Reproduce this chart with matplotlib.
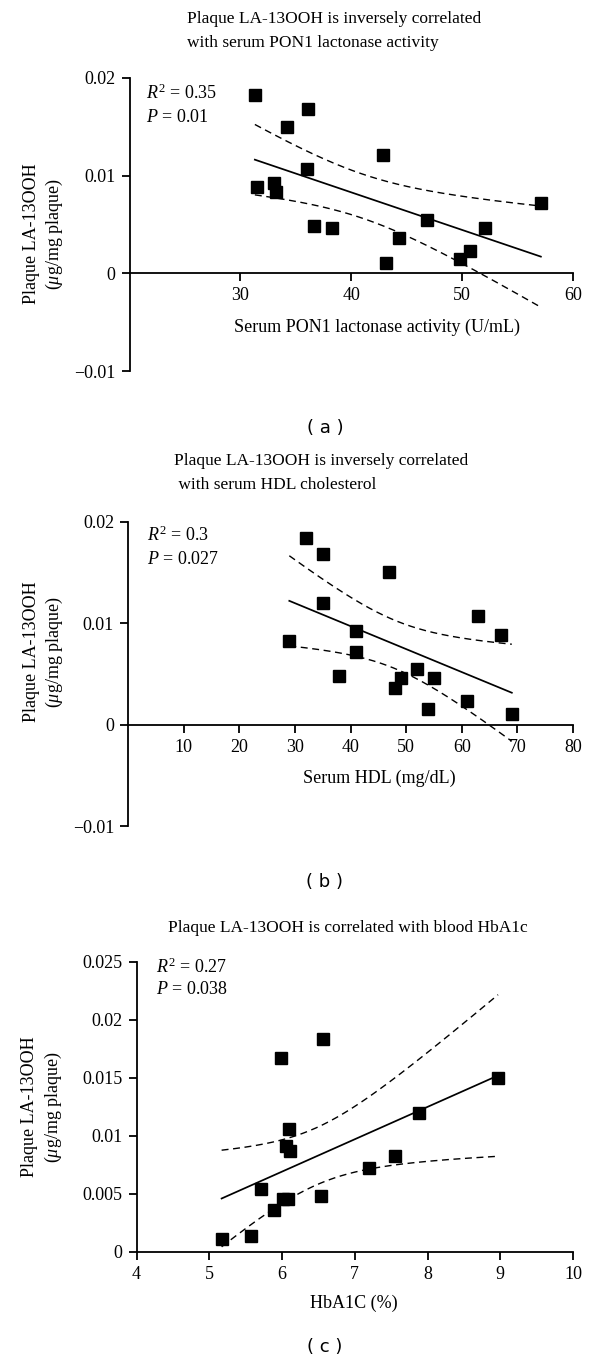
import numpy as np
import matplotlib
matplotlib.use("Agg")
import matplotlib.pyplot as plt

# ---------------- data ----------------
# (a) serum PON1 lactonase activity vs plaque LA-13OOH
pon1_activity = [31.3, 36.1, 34.2, 42.9, 36.0, 31.5, 33.0, 33.2, 57.1,
                 36.6, 38.3, 46.8, 44.3, 52.1, 50.7, 49.8, 43.1]
la13ooh_a = [0.0183, 0.0168, 0.0150, 0.0121, 0.0107, 0.0088, 0.0092, 0.0083, 0.0072,
             0.0048, 0.0046, 0.0055, 0.0036, 0.0046, 0.0023, 0.0015, 0.0011]

# (b) serum HDL vs plaque LA-13OOH
hdl = [32, 35, 47, 35, 63, 67, 41, 29, 41, 38, 52, 49, 55, 48, 61, 54, 69]
la13ooh_b = [0.0184, 0.0168, 0.0151, 0.0120, 0.0107, 0.0088, 0.0092, 0.0083, 0.0072,
             0.0048, 0.0055, 0.0046, 0.0046, 0.0036, 0.0023, 0.0015, 0.0011]

# (c) HbA1c vs plaque LA-13OOH
hba1c = [6.57, 5.99, 8.97, 7.89, 6.09, 6.06, 6.11, 7.55, 7.19, 5.71, 6.54,
         6.02, 6.08, 5.89, 5.57, 5.17]
la13ooh_c = [0.0184, 0.0167, 0.0150, 0.0120, 0.0106, 0.0091, 0.0087, 0.0083, 0.0072,
             0.0054, 0.0048, 0.0046, 0.0046, 0.0036, 0.0014, 0.0011]

titles = ["Plaque LA-13OOH is inversely correlated\nwith serum PON1 lactonase activity",
          "Plaque LA-13OOH is inversely correlated\n with serum HDL cholesterol",
          "Plaque LA-13OOH is correlated with blood HbA1c"]
xlabels = ["Serum PON1 lactonase activity (U/mL)", "Serum HDL (mg/dL)", "HbA1C (%)"]
stats_r2 = ["0.35", "0.3", "0.27"]
stats_p = ["0.01", "0.027", "0.038"]
panel_tags = ["( a )", "( b )", "( c )"]
xticks_list = [[30, 40, 50, 60], [10, 20, 30, 40, 50, 60, 70, 80], [4, 5, 6, 7, 8, 9, 10]]
yticks_list = [[-0.01, 0, 0.01, 0.02], [-0.01, 0, 0.01, 0.02],
               [0, 0.005, 0.01, 0.015, 0.02, 0.025]]
ytick_labels_list = [["\u22120.01", "0", "0.01", "0.02"], ["\u22120.01", "0", "0.01", "0.02"],
                     ["0", "0.005", "0.01", "0.015", "0.02", "0.025"]]

# Student t 0.975 quantiles by degrees of freedom
T975 = {13: 2.160, 14: 2.145, 15: 2.131}

plt.rcParams['font.family'] = ['Liberation Serif', 'DejaVu Serif']
plt.rcParams['mathtext.fontset'] = 'custom'
plt.rcParams['mathtext.rm'] = 'Liberation Serif'
plt.rcParams['mathtext.it'] = 'Liberation Serif:italic'

W, H = 600, 1362
fig = plt.figure(figsize=(W / 100, H / 100), dpi=100)


def fx(px):
    return px / W


def fy(py):
    return 1 - py / H


def fit_band(x, y):
    x = np.asarray(x, float)
    y = np.asarray(y, float)
    n = len(x)
    b, a = np.polyfit(x, y, 1)
    xs = np.linspace(x.min(), x.max(), 200)
    yhat = a + b * xs
    resid = y - (a + b * x)
    s = np.sqrt(np.sum(resid ** 2) / (n - 2))
    xm = x.mean()
    sxx = np.sum((x - xm) ** 2)
    se = s * np.sqrt(1.0 / n + (xs - xm) ** 2 / sxx)
    t = T975[n - 2]
    return xs, yhat, yhat - t * se, yhat + t * se


# layout in pixel coordinates: (left, right, top, bottom)
axes_px = [(129.6, 573, 78, 371), (128, 573, 522, 826), (136.5, 573, 962, 1252)]
xlims = [(20, 60), (0, 80), (4, 10)]
ylims = [(-0.01, 0.02), (-0.01, 0.02), (0, 0.025)]
title_pos = [(187, 30.7, 'left'), (174, 473, 'left'), (348, 928, 'center')]
stat_pos = [(146, 93, 117), (147, 535, 560), (156, 967, 990)]
ylab_pos = [(31, 54, 234), (31, 54, 652), (30, 53, 1107)]
xlab_pos = [(377, 327), (379, 778), (354, 1303)]
tag_pos = [(325, 428), (325, 882), (325, 1347)]

data = [(pon1_activity, la13ooh_a), (hdl, la13ooh_b), (hba1c, la13ooh_c)]

for i in range(3):
    l, r, t, b = axes_px[i]
    ax = fig.add_axes([fx(l), fy(b), fx(r) - fx(l), (b - t) / H])
    ax.set_xlim(*xlims[i])
    ax.set_ylim(*ylims[i])
    ax.patch.set_alpha(0)
    for sp in ['top', 'right']:
        ax.spines[sp].set_visible(False)
    ax.spines['bottom'].set_position(('data', 0))
    ax.spines['left'].set_linewidth(1.3)
    ax.spines['bottom'].set_linewidth(1.3)
    ax.set_xticks(xticks_list[i])
    ax.set_xticklabels([str(v) for v in xticks_list[i]])
    ax.set_yticks(yticks_list[i])
    ax.set_yticklabels(ytick_labels_list[i])
    ax.tick_params(direction='out', length=6, width=1.3, labelsize=13, pad=4)

    x, y = data[i]
    xs, yhat, lo, hi = fit_band(x, y)
    ax.plot(xs, yhat, color='black', lw=1.25, zorder=2)
    ax.plot(xs, lo, color='black', lw=1.0, dashes=(5, 3.3), zorder=2)
    ax.plot(xs, hi, color='black', lw=1.0, dashes=(5, 3.3), zorder=2)
    ax.plot(x, y, 's', color='black', ms=8.3, zorder=3, clip_on=False)

    tx, ty, ha = title_pos[i]
    fig.text(fx(tx), fy(ty), titles[i], ha=ha, va='center', fontsize=12.5,
             linespacing=1.65, multialignment='left')
    sx, sy1, sy2 = stat_pos[i]
    fig.text(fx(sx), fy(sy1), r"$R^2$ = " + stats_r2[i], ha='left', va='center', fontsize=13)
    fig.text(fx(sx), fy(sy2), r"$P$ = " + stats_p[i], ha='left', va='center', fontsize=13)
    yx1, yx2, yy = ylab_pos[i]
    fig.text(fx(yx1), fy(yy), "Plaque LA-13OOH", rotation=90, ha='center', va='center', fontsize=13)
    fig.text(fx(yx2), fy(yy), r"($\mu$g/mg plaque)", rotation=90, ha='center', va='center', fontsize=13)
    lx, ly = xlab_pos[i]
    fig.text(fx(lx), fy(ly), xlabels[i], ha='center', va='center', fontsize=13)
    gx, gy = tag_pos[i]
    fig.text(fx(gx), fy(gy), panel_tags[i], ha='center', va='center', fontsize=13,
             family='DejaVu Sans')

fig.savefig("out.png", dpi=100)
